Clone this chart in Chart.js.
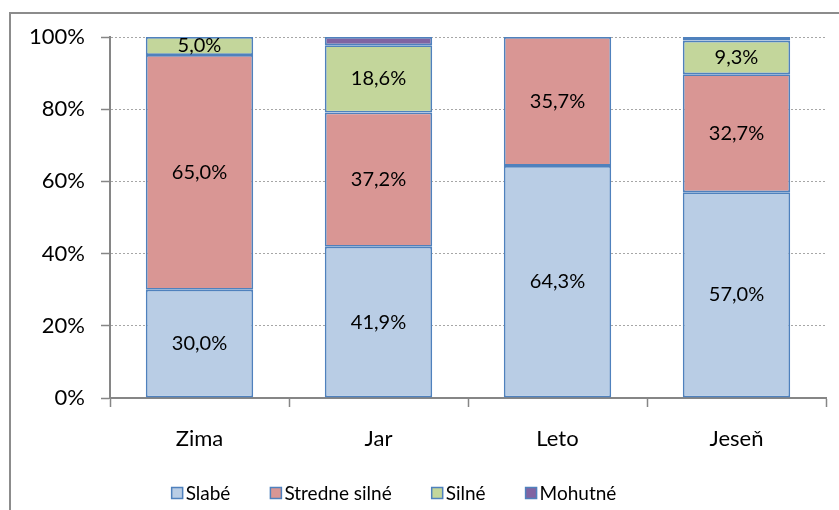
<!DOCTYPE html>
<html>
<head>
<meta charset="utf-8">
<script src="https://cdn.jsdelivr.net/npm/chart.js@4/dist/chart.umd.min.js"></script>
<style>
    body { margin: 0; background: #fff; }
    #wrap { position: relative; width: 839px; height: 510px; overflow: hidden; }
    #frame { position: absolute; left: 9px; top: 12px; width: 900px; height: 600px; border: 2px solid #8c8c8c; }
    canvas { position: absolute; left: 0; top: 0; }
</style>
</head>
<body>
<div id="wrap">
    <div id="frame"></div>
    <canvas id="chart" width="839" height="510"></canvas>
</div>
<script>
const seasons = ['Zima', 'Jar', 'Leto', 'Jeseň'];
const seriesNames = ['Slabé', 'Stredne silné', 'Silné', 'Mohutné'];
const slabe = [30.0, 41.9, 64.3, 57.0];
const stredne = [65.0, 37.2, 35.7, 32.7];
const silne = [5.0, 18.6, 0, 9.3];
const mohutne = [0, 2.3, 0, 1.0];
const seriesColors = ['#b9cde5', '#d99694', '#c3d69b', '#8064a2'];
const yTicks = [0, 20, 40, 60, 80, 100];

const FONT = 'Lato';
const edge = '#4f81bd';

//Value labels in the middle of each segment
const segmentLabels = {
    id: 'segmentLabels',
    afterDatasetsDraw(chart) {
        const ctx = chart.ctx;
        ctx.save();
        ctx.font = '20px ' + FONT;
        ctx.fillStyle = '#000';
        ctx.textAlign = 'center';
        ctx.textBaseline = 'middle';
        chart.data.datasets.forEach((ds, i) => {
            chart.getDatasetMeta(i).data.forEach((bar, j) => {
                let v = ds.data[j];
                if (v < 3) return;
                let txt = v.toFixed(1).replace('.', ',') + '%';
                ctx.fillText(txt, bar.x, (bar.y + bar.base) / 2);
            });
        });
        ctx.restore();
    }
};

//Legend drawn like the office one: small box, tight gap
const bottomLegend = {
    id: 'bottomLegend',
    afterDraw(chart) {
        const ctx = chart.ctx;
        ctx.save();
        ctx.font = '19px ' + FONT;
        ctx.textBaseline = 'middle';
        const box = 11, gap = 3, spacing = 40, cy = 493;
        let items = chart.data.datasets.map(ds => ({ label: ds.label, color: ds.backgroundColor, w: ctx.measureText(ds.label).width }));
        let total = items.reduce((s, it) => s + box + gap + it.w, 0) + spacing * (items.length - 1);
        let x = 394 - total / 2;
        items.forEach(it => {
            ctx.fillStyle = it.color;
            ctx.fillRect(x, cy - box / 2, box, box);
            ctx.strokeStyle = edge;
            ctx.lineWidth = 1.5;
            ctx.strokeRect(x, cy - box / 2, box, box);
            ctx.fillStyle = '#000';
            ctx.fillText(it.label, x + box + gap, cy + 1);
            x += box + gap + it.w + spacing;
        });
        ctx.restore();
    }
};

const values = [slabe, stredne, silne, mohutne];

new Chart('chart', {
    type: 'bar',
    data: {
        labels: seasons,
        datasets: seriesNames.map((name, i) => ({
            label: name,
            data: values[i],
            backgroundColor: seriesColors[i],
            borderColor: edge,
            borderWidth: 1.8,
            borderSkipped: false,
            categoryPercentage: 1,
            barPercentage: 0.6
        }))
    },
    options: {
        responsive: false,
        animation: false,
        layout: { padding: { left: 0, right: 13, top: 37, bottom: 0 } },
        plugins: { legend: { display: false }, tooltip: { enabled: false } },
        scales: {
            x: {
                stacked: true,
                grid: { drawOnChartArea: false, offset: true, tickLength: 9, tickColor: '#868686', tickWidth: 1.5 },
                border: { color: '#868686', width: 2 },
                ticks: { color: '#000', font: { family: FONT, size: 22 }, padding: 19 },
                afterFit(scale) { scale.height = 112; }
            },
            y: {
                stacked: true,
                min: 0,
                max: 100,
                afterBuildTicks(scale) { scale.ticks = yTicks.map(v => ({ value: v })); },
                grid: { color: '#a6a6a6', lineWidth: 1, tickLength: 9, tickColor: '#868686', tickWidth: 1.5 },
                border: { color: '#868686', width: 2, dash: [2, 2] },
                ticks: { color: '#000', font: { family: FONT, size: 22 }, padding: 16, callback: v => v + '%' },
                afterFit(scale) { scale.width = 110; }
            }
        }
    },
    plugins: [segmentLabels, bottomLegend]
});
</script>
</body>
</html>
